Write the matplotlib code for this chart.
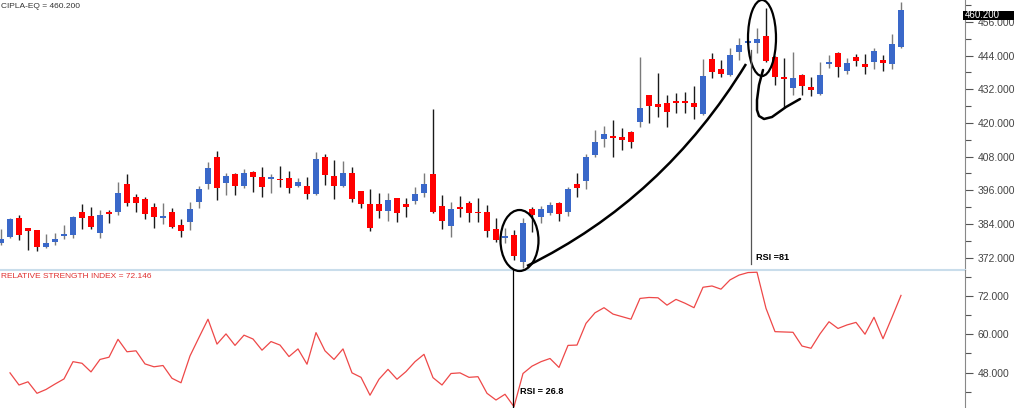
import numpy as np
import matplotlib.pyplot as plt
from matplotlib.patches import Ellipse, PathPatch, Rectangle
from matplotlib.path import Path
from matplotlib.ticker import MultipleLocator, FormatStrFormatter

plt.rcParams['font.family'] = ['Liberation Sans', 'DejaVu Sans']

# daily candles
open_ = [377.2, 379.3, 386.1, 382.5, 381.8, 375.8, 377.6, 379.7, 380.0, 388.2,
         386.8, 380.8, 388.2, 388.2, 398.2, 393.6, 392.9, 390.0, 386.1, 388.2,
         383.6, 384.7, 391.8, 398.2, 407.8, 398.6, 401.8, 397.5, 402.5, 400.7,
         400.0, 400.0, 400.4, 397.5, 397.5, 394.7, 407.8, 401.1, 397.5, 402.1,
         395.7, 391.1, 391.1, 388.6, 393.2, 391.1, 392.2, 395.0, 401.8, 390.4,
         383.3, 390.0, 391.5, 388.2, 388.2, 382.2, 379.0, 380.0, 370.4, 389.3,
         386.5, 387.9, 391.5, 388.2, 398.2, 399.3, 408.6, 414.3, 415.3, 415.0,
         416.8, 420.3, 429.9, 426.7, 427.1, 427.8, 427.8, 427.1, 423.2, 442.8,
         439.2, 437.1, 445.3, 448.5, 448.5, 451.0, 443.5, 436.4, 432.4, 437.1,
         432.8, 430.3, 441.0, 444.9, 438.5, 443.5, 441.0, 441.7, 442.4, 441.0,
         447.0]
high = [382.2, 386.1, 387.2, 382.7, 382.0, 380.4, 380.8, 383.6, 386.8, 391.1,
        390.0, 389.0, 389.0, 398.9, 401.8, 394.7, 393.6, 391.5, 391.5, 389.7,
        385.7, 391.8, 397.5, 406.1, 410.0, 402.1, 402.1, 403.6, 402.9, 404.3,
        401.8, 404.6, 402.9, 400.4, 400.7, 409.6, 408.9, 406.8, 406.4, 404.3,
        395.9, 396.4, 395.0, 395.0, 393.4, 393.2, 397.2, 402.1, 424.9, 394.3,
        391.8, 393.9, 392.2, 393.2, 390.7, 386.1, 382.5, 381.8, 386.1, 390.0,
        390.4, 391.8, 391.8, 397.2, 402.1, 408.9, 417.5, 418.9, 421.0, 418.2,
        417.1, 443.5, 430.1, 437.8, 429.9, 430.6, 431.0, 433.1, 442.8, 444.9,
        442.4, 446.7, 450.3, 449.5, 453.8, 461.0, 443.7, 443.1, 445.3, 437.3,
        436.4, 441.7, 444.2, 445.1, 443.1, 444.6, 444.6, 446.7, 444.2, 451.7,
        463.1]
low = [376.5, 379.0, 378.3, 374.7, 374.3, 375.6, 376.5, 378.6, 379.0, 382.2,
       382.2, 379.0, 384.3, 387.2, 390.4, 388.2, 385.7, 382.5, 384.0, 382.5,
       379.3, 381.8, 389.7, 396.4, 392.5, 394.3, 394.3, 396.8, 395.4, 393.6,
       395.0, 397.2, 395.0, 397.2, 392.9, 394.3, 397.9, 392.9, 397.3, 391.8,
       389.7, 381.5, 386.1, 385.0, 384.7, 386.5, 391.1, 393.6, 387.9, 382.2,
       379.3, 386.5, 384.7, 384.7, 379.3, 377.6, 377.2, 371.1, 368.3, 381.1,
       384.3, 387.2, 385.0, 386.8, 393.6, 396.4, 407.8, 411.4, 407.8, 410.3,
       411.1, 418.5, 420.0, 422.1, 418.5, 423.5, 423.5, 421.4, 423.0, 436.0,
       436.4, 436.7, 442.4, 448.1, 444.9, 441.7, 433.5, 425.3, 429.9, 429.9,
       429.6, 430.1, 439.6, 436.4, 437.4, 440.3, 437.4, 439.2, 438.5, 439.2,
       446.8]
close = [378.6, 385.7, 380.0, 381.5, 375.8, 377.2, 378.6, 380.4, 386.5, 386.1,
         382.9, 387.2, 387.7, 395.0, 391.5, 391.5, 387.5, 386.5, 386.8, 382.9,
         381.5, 389.3, 396.4, 403.9, 396.8, 401.1, 397.5, 402.1, 400.7, 397.2,
         400.7, 399.6, 396.8, 398.9, 394.7, 407.1, 401.4, 397.5, 402.1, 392.9,
         391.1, 382.5, 388.6, 392.5, 387.9, 390.0, 394.7, 398.2, 388.2, 385.0,
         389.3, 389.3, 387.9, 387.9, 381.5, 378.3, 379.7, 372.6, 384.3, 387.2,
         389.3, 390.7, 387.5, 396.4, 396.8, 407.8, 413.2, 416.0, 414.6, 413.9,
         413.2, 425.3, 426.0, 425.7, 423.9, 427.1, 427.1, 425.7, 436.7, 438.1,
         437.4, 444.2, 447.8, 449.2, 449.9, 442.1, 436.4, 435.6, 436.0, 433.1,
         431.7, 437.1, 441.7, 439.9, 441.3, 442.1, 439.9, 445.6, 441.3, 448.1,
         460.2]
rsi = [np.nan, 47.9, 44.1, 45.1, 41.5, 42.7, 44.4, 46.0, 51.4, 50.9,
       48.2, 52.1, 52.8, 58.4, 54.5, 54.8, 50.7, 49.8, 50.2, 46.2,
       44.8, 53.2, 59.0, 64.7, 56.9, 60.1, 56.5, 59.7, 58.5, 55.0,
       57.7, 56.6, 53.0, 55.4, 50.6, 60.5, 54.8, 52.1, 55.4, 47.9,
       46.5, 40.9, 45.9, 49.0, 45.9, 48.3, 51.4, 53.7, 46.4, 44.1,
       47.7, 47.9, 46.5, 46.7, 41.5, 39.4, 41.2, 37.3, 47.7, 50.0,
       51.4, 52.4, 49.6, 56.5, 56.6, 63.4, 66.7, 68.3, 66.3, 65.5,
       64.7, 71.2, 71.5, 71.4, 69.1, 70.9, 69.7, 68.3, 74.7, 75.1,
       74.1, 77.0, 78.5, 79.3, 79.4, 68.1, 60.8, 60.7, 60.6, 56.3,
       55.6, 60.1, 63.9, 61.8, 62.9, 63.7, 60.0, 65.3, 58.6, 65.3,
       72.146]

o = np.array(open_)
c = np.array(close)
x = np.arange(len(o))
up = c >= o

W, H = 1024, 408
fig = plt.figure(figsize=(W / 100, H / 100), dpi=100)
ax1 = fig.add_axes([0, 138 / H, 965 / W, 270 / H])
ax2 = fig.add_axes([0, 0, 965 / W, 138 / H])

# candles
wick_col = np.where(up, '#7a7a7a', '#1a1a1a')
ax1.vlines(x, low, high, colors=wick_col, lw=1, zorder=2)
body_col = np.where(up, '#3a68c9', '#ff0000')
ax1.bar(x, np.maximum(np.abs(c - o), 0.45), bottom=np.minimum(o, c),
        width=0.75, color=body_col, zorder=3)

# rsi
ax2.plot(x, rsi, color='#ee4848', lw=0.9)

for ax in (ax1, ax2):
    ax.set_xlim(-1 / 9, 964 / 9)
    ax.xaxis.set_visible(False)
    ax.yaxis.tick_right()
    ax.yaxis.set_major_formatter(FormatStrFormatter('%.3f'))
    ax.tick_params(axis='y', which='major', length=6, width=0.8, color='#555555',
                   labelsize=7.5, labelcolor='#444444', pad=3)
    ax.tick_params(axis='y', which='minor', length=4, width=0.8, color='#555555')
    for s in ('left', 'top', 'bottom'):
        ax.spines[s].set_visible(False)
    ax.spines['right'].set_color('#888888')
    ax.patch.set_alpha(0)

ax1.set_ylim(367.6, 463.8)
ax1.yaxis.set_major_locator(MultipleLocator(12))
ax1.yaxis.set_minor_locator(MultipleLocator(6))
ax1.spines['bottom'].set_visible(True)
ax1.spines['bottom'].set_color('#c9ddeb')
ax1.spines['bottom'].set_linewidth(1.5)

ax2.set_ylim(36.9, 80.1)
ax2.yaxis.set_major_locator(MultipleLocator(12))
ax2.yaxis.set_minor_locator(MultipleLocator(6))

# last price box, sitting over the top tick label
ytf = ax1.get_yaxis_transform()
ax1.add_patch(Rectangle((0.998, close[-1] - 3.6), 0.053, 3.4, transform=ytf,
                        facecolor='black', edgecolor='none', clip_on=False, zorder=10))
ax1.text(1.0, close[-1] - 1.9, '%.3f' % close[-1], transform=ytf,
         ha='left', va='center', fontsize=7, color='white', zorder=11, clip_on=False)

fig.text(1 / W, 1 - 6 / H, 'CIPLA-EQ = %.3f' % close[-1], fontsize=6, color='#333333',
         va='center', ha='left')
fig.text(1 / W, 1 - 276 / H, 'RELATIVE STRENGTH INDEX = %.3f' % rsi[-1], fontsize=6,
         color='#e03030', va='center', ha='left')


def px(xp, yp):
    return xp / W, 1 - yp / H


# hand drawn marks
tf = fig.transFigure
fig.add_artist(Ellipse(px(519.5, 240.5), 38 / W, 61 / H, transform=tf,
                       fill=False, ec='black', lw=1.6))
fig.add_artist(Ellipse(px(762, 38), 28 / W, 76 / H, transform=tf,
                       fill=False, ec='black', lw=1.6))

curve = Path([px(527, 266), px(663.5, 199), px(746, 64)],
             [Path.MOVETO, Path.CURVE3, Path.CURVE3])
fig.add_artist(PathPatch(curve, transform=tf, fill=False, ec='black', lw=1.8))

hook = [(763, 70), (759, 85), (757, 100), (757, 110), (759, 116), (764, 119),
        (772, 117), (786, 107), (800, 99)]
hx, hy = zip(*[px(a, b) for a, b in hook])
fig.add_artist(plt.Line2D(hx, hy, transform=tf, color='black', lw=1.8,
                          solid_capstyle='round'))

fig.add_artist(plt.Line2D(*zip(px(513, 270), px(513, 408)), transform=tf,
                          color='black', lw=0.9))
fig.add_artist(plt.Line2D(*zip(px(751, 50), px(751, 264)), transform=tf,
                          color='#555555', lw=0.9))

fig.text(*px(756, 258), 'RSI =81', fontsize=6.6, fontweight='bold', va='center', ha='left')
fig.text(*px(520, 391), 'RSI = 26.8', fontsize=6.6, fontweight='bold', va='center', ha='left')

fig.savefig('out.png', dpi=100, facecolor='white')
